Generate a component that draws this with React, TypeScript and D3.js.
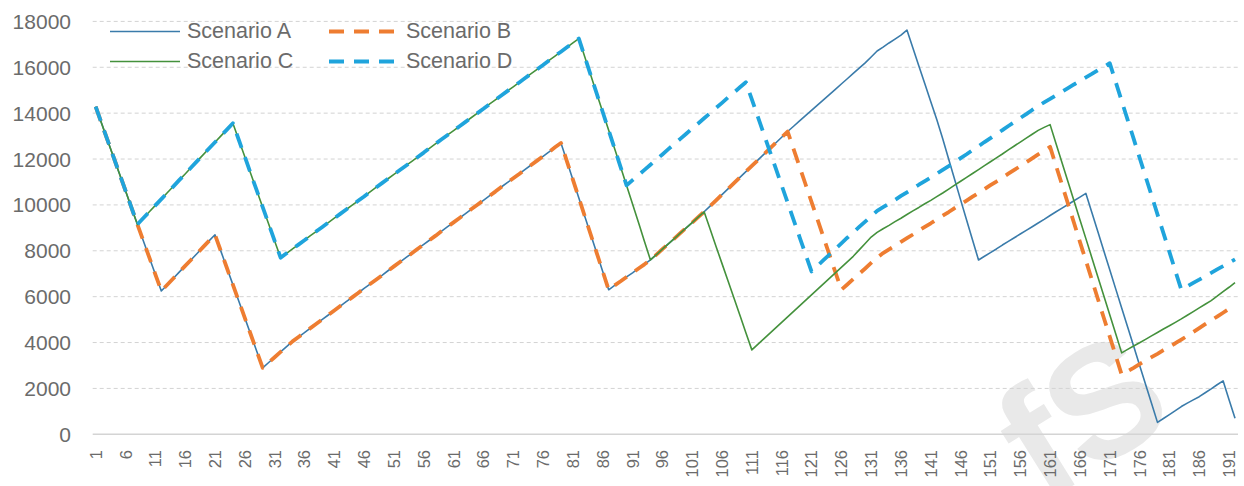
import React from 'react';
import * as d3 from 'd3';

// category index 1..192 along the x axis
const categories = d3.range(1, 193);
const yTicks = [0, 2000, 4000, 6000, 8000, 10000, 12000, 14000, 16000, 18000];
const seriesNames = ['Scenario A', 'Scenario B', 'Scenario C', 'Scenario D'];

const scenarioA = [
  14280, 13550, 12810, 12080, 11350, 10620, 9880, 9150, 8425, 7700, 6975, 6250,
  6520, 6790, 7070, 7340, 7610, 7880, 8160, 8430, 8700,
  7975, 7250, 6525, 5800, 5075, 4350, 3625, 2900,
  3130, 3360, 3590, 3820, 4050,
  4240, 4430, 4630, 4820, 5010, 5200, 5400, 5590, 5780, 5970, 6160, 6360, 6550, 6740, 6930,
  7130, 7320, 7510, 7700, 7890, 8090, 8280, 8470, 8660, 8860, 9050, 9240, 9430, 9620, 9820,
  10010, 10200, 10390, 10580, 10780, 10970, 11160, 11350, 11550, 11740, 11930, 12120, 12310, 12510, 12700,
  11900, 11100, 10300, 9500, 8700, 7900, 7100, 6300,
  6490, 6670, 6860, 7040, 7230, 7410, 7600,
  7830, 8070, 8300, 8530, 8770, 9000, 9230, 9470, 9700,
  9950, 10200, 10450, 10700, 10950, 11200, 11450, 11700, 11950, 12200, 12450, 12700, 12950, 13200,
  13430, 13660, 13890, 14120, 14350, 14580, 14810, 15040, 15270, 15500, 15730, 15960, 16190,
  16450, 16710, 16880, 17060, 17230, 17400, 17620,
  16840, 16060, 15280, 14500, 13720, 12880, 11990, 11110, 10220, 9340, 8470, 7600,
  7760, 7920, 8080, 8250, 8410, 8570, 8730, 8890, 9050, 9210, 9370, 9540, 9700, 9860, 10020, 10180, 10340, 10500,
  9670, 8840, 8000, 7170, 6340, 5510, 4680, 3850, 3010, 2180, 1350, 520,
  690, 860, 1030, 1210, 1360, 1500, 1640, 1810, 1980, 2160, 2330,
  1510, 700,
];

const scenarioB = [
  14280, 13550, 12810, 12080, 11350, 10620, 9880, 9150, 8425, 7700, 6975, 6250,
  6520, 6790, 7070, 7340, 7610, 7880, 8160, 8430, 8700,
  7975, 7250, 6525, 5800, 5075, 4350, 3625, 2900,
  3130, 3360, 3590, 3820, 4050,
  4240, 4430, 4630, 4820, 5010, 5200, 5400, 5590, 5780, 5970, 6160, 6360, 6550, 6740, 6930,
  7130, 7320, 7510, 7700, 7890, 8090, 8280, 8470, 8660, 8860, 9050, 9240, 9430, 9620, 9820,
  10010, 10200, 10390, 10580, 10780, 10970, 11160, 11350, 11550, 11740, 11930, 12120, 12310, 12510, 12700,
  11900, 11100, 10300, 9500, 8700, 7900, 7100, 6300,
  6490, 6670, 6860, 7040, 7230, 7410, 7600,
  7830, 8070, 8300, 8530, 8770, 9000, 9230, 9470, 9700,
  9950, 10200, 10450, 10700, 10950, 11200, 11450, 11700, 11950, 12200, 12450, 12700, 12950, 13200,
  12430, 11670, 10900, 10130, 9370, 8600, 7830, 7070, 6300,
  6530, 6770, 7000, 7230, 7470, 7700,
  7900, 8060, 8220, 8390, 8550, 8710, 8880, 9040, 9200, 9370, 9530, 9690, 9860, 10020,
  10190, 10360, 10520, 10690, 10860, 11020, 11190, 11360, 11530, 11690, 11860, 12030, 12200, 12360, 12530,
  11700, 10880, 10050, 9220, 8390, 7570, 6740, 5910, 5080, 4260, 3430, 2600,
  2750, 2900, 3060, 3210, 3360, 3510, 3670, 3820, 3970, 4130, 4290, 4460, 4630, 4800, 4970, 5130, 5300, 5470, 5640,
];

const scenarioC = [
  14280, 13550, 12810, 12080, 11350, 10620, 9880, 9150,
  9430, 9700, 9980, 10250, 10530, 10800, 11080, 11350, 11630, 11910, 12180, 12460, 12730, 13010, 13280, 13560,
  12830, 12100, 11360, 10630, 9900, 9170, 8430, 7700,
  7890, 8080, 8270, 8460, 8660, 8850, 9040, 9230, 9420, 9610, 9800, 9990, 10180, 10370, 10570, 10760, 10950,
  11140, 11330, 11520, 11710, 11900, 12090, 12280, 12480, 12670, 12860, 13050, 13240, 13430, 13620, 13810,
  14000, 14190, 14390, 14580, 14770, 14960, 15150, 15340, 15530, 15720, 15910, 16100, 16300, 16490, 16680,
  16870, 17060, 17250,
  16450, 15650, 14850, 14050, 13250, 12450, 11650, 10850,
  10040, 9230, 8410, 7600,
  7830, 8070, 8300, 8530, 8770, 9000, 9230, 9470, 9700,
  8950, 8190, 7440, 6690, 5940, 5190, 4430, 3680,
  3920, 4160, 4400, 4640, 4880, 5120, 5360, 5600, 5840, 6080, 6320, 6560, 6800, 7040, 7280, 7520, 7760,
  8040, 8320, 8600, 8800,
  8960, 9110, 9270, 9420, 9580, 9740, 9890, 10050, 10200, 10360, 10520,
  10690, 10860, 11030, 11200, 11370, 11540, 11710, 11880, 12050, 12220, 12400, 12570, 12740, 12910, 13080, 13250, 13380, 13500,
  12670, 11840, 11010, 10180, 9350, 8530, 7700, 6870, 6040, 5210, 4380, 3550,
  3700, 3850, 3990, 4140, 4290, 4440, 4590, 4730, 4880, 5030, 5190, 5350, 5510, 5670, 5830, 6020, 6220, 6410, 6610,
];

const scenarioD = [
  14280, 13550, 12810, 12080, 11350, 10620, 9880, 9150,
  9430, 9700, 9980, 10250, 10530, 10800, 11080, 11350, 11630, 11910, 12180, 12460, 12730, 13010, 13280, 13560,
  12830, 12100, 11360, 10630, 9900, 9170, 8430, 7700,
  7890, 8080, 8270, 8460, 8660, 8850, 9040, 9230, 9420, 9610, 9800, 9990, 10180, 10370, 10570, 10760, 10950,
  11140, 11330, 11520, 11710, 11900, 12090, 12280, 12480, 12670, 12860, 13050, 13240, 13430, 13620, 13810,
  14000, 14190, 14390, 14580, 14770, 14960, 15150, 15340, 15530, 15720, 15910, 16100, 16300, 16490, 16680,
  16870, 17060, 17250,
  16450, 15650, 14850, 14050, 13250, 12450, 11650, 10850,
  11080, 11300, 11530, 11750, 11980, 12200, 12430, 12650, 12880, 13100, 13330, 13550, 13780, 14000, 14230,
  14450, 14680, 14900, 15130, 15350,
  14600, 13850, 13100, 12350, 11600, 10850, 10100, 9350, 8600, 7850, 7100,
  7340, 7590, 7830, 8080, 8320, 8570, 8800, 9040, 9270, 9500, 9740,
  9900, 10060, 10220, 10390, 10550, 10710, 10880, 11040, 11200, 11360, 11530, 11690,
  11860, 12040, 12210, 12390, 12560, 12740, 12910, 13090, 13260, 13440, 13610, 13790, 13960, 14140, 14310,
  14470, 14620, 14780, 14930, 15090, 15250, 15400, 15560, 15710, 15870, 16020, 16180,
  15360, 14530, 13710, 12890, 12060, 11240, 10420, 9590, 8770, 7950, 7120, 6300,
  6450, 6600, 6740, 6890, 7040, 7190, 7330, 7480, 7630,
];

const W = 1244;
const H = 486;
const plot = { left: 92.7, right: 1238, top: 21.4, bottom: 434.3 };
const textColor = '#6b6b6b';
const font = '"Liberation Sans", Arial, sans-serif';

const styles = [
  { color: '#3a7baa', width: 1.6, dash: undefined },
  { color: '#ee7d31', width: 3.8, dash: '15 10' },
  { color: '#44913c', width: 1.6, dash: undefined },
  { color: '#1fa4dc', width: 3.8, dash: '15 10' },
];

const App: React.FC = () => {
  const x = d3.scalePoint<number>()
    .domain(categories)
    .range([plot.left, plot.right])
    .padding(0.5);

  const y = d3.scaleLinear()
    .domain([0, 18000])
    .range([plot.bottom, plot.top]);

  const line = d3.line<number>()
    .x((_, i) => x(categories[i]) || 0)
    .y(d => y(d));

  const allSeries = [scenarioA, scenarioB, scenarioC, scenarioD];
  const xLabels = categories.filter(c => (c - 1) % 5 === 0);

  // legend: 2 x 2 grid
  const legendItems = seriesNames.map((name, i) => ({
    name,
    style: styles[i],
    lx: i % 2 === 0 ? 110 : 329,
    ly: i < 2 ? 31.5 : 61.5,
  }));

  return (
    <svg width={W} height={H} style={{ position: 'absolute', left: 0, top: 0, background: '#fff' }}>
      {/* watermark */}
      <text x={1082} y={470} textAnchor="middle" fontFamily={font} fontWeight="bold"
        fontSize={160} fill="#e9e9e9" transform="rotate(-32 1082 415)">fS</text>

      {/* gridlines */}
      {yTicks.map(t => (
        <line key={t} x1={plot.left} x2={plot.right} y1={y(t)} y2={y(t)}
          stroke={t === 0 ? '#d4d4d4' : '#d3d3d3'}
          strokeWidth={t === 0 ? 1.5 : 1}
          strokeDasharray={t === 0 ? undefined : '4 3'} />
      ))}

      {/* y labels */}
      {yTicks.map(t => (
        <text key={t} x={71} y={y(t)} textAnchor="end" dominantBaseline="central"
          fontFamily={font} fontSize={21} fill={textColor}>{t}</text>
      ))}

      {/* x labels */}
      {xLabels.map(c => {
        const px = x(c) || 0;
        return (
          <text key={c} x={px} y={450} textAnchor="end" dominantBaseline="central"
            transform={`rotate(-90 ${px} 450)`} fontFamily={font} fontSize={16.5} fill={textColor}>{c}</text>
        );
      })}

      {/* series */}
      {allSeries.map((s, i) => (
        <path key={seriesNames[i]} d={line(s) || ''} fill="none"
          stroke={styles[i].color} strokeWidth={styles[i].width}
          strokeDasharray={styles[i].dash} strokeLinejoin="round" />
      ))}

      {/* legend */}
      {legendItems.map(item => (
        <g key={item.name}>
          <line x1={item.lx} x2={item.lx + 70} y1={item.ly} y2={item.ly}
            stroke={item.style.color} strokeWidth={item.style.width} strokeDasharray={item.style.dash} />
          <text x={item.lx + 77} y={item.ly + 6.5} fontFamily={font} fontSize={21.5} fill={textColor}>{item.name}</text>
        </g>
      ))}
    </svg>
  );
};

export default App;
